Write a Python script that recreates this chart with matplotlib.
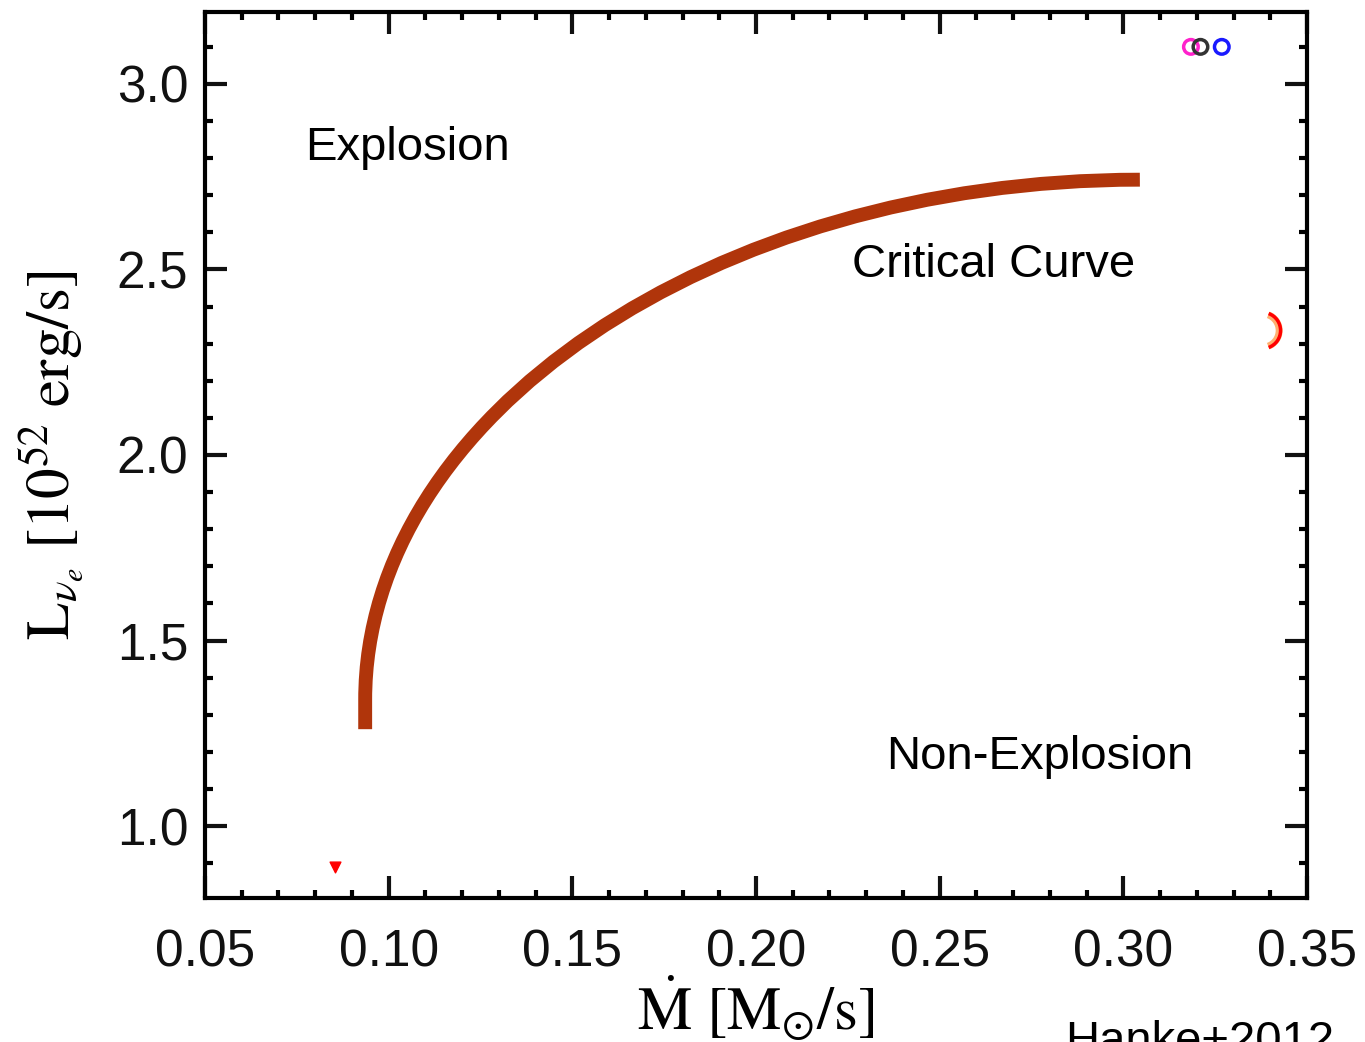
import numpy as np
import matplotlib
matplotlib.use('Agg')
import matplotlib.pyplot as plt
from matplotlib.ticker import MultipleLocator
from matplotlib.path import Path
from matplotlib.patches import PathPatch

plt.rcParams['font.family'] = ['Liberation Sans', 'DejaVu Sans']
plt.rcParams['mathtext.fontset'] = 'stix'

# critical luminosity curve: start, end of straight piece, then bezier control points
curve_x = [0.0936, 0.0936, 0.0936, 0.1876, 0.3045]
curve_y = [1.261, 1.340, 2.100, 2.742, 2.742]
curve_codes = [Path.MOVETO, Path.LINETO, Path.CURVE4, Path.CURVE4, Path.CURVE4]

# leftover model points near the frame edges
pts_x = [0.3184, 0.3210, 0.3268]
pts_y = [3.100, 3.100, 3.100]
pts_c = ['#ff22cc', '#333333', '#1a1aff']
tri_x, tri_y = 0.0854, 0.890
arc_x, arc_y = 0.3378, 2.337

xticks = [0.05, 0.10, 0.15, 0.20, 0.25, 0.30, 0.35]
yticks = [1.0, 1.5, 2.0, 2.5, 3.0]

fig = plt.figure(figsize=(13.65, 10.42), dpi=100)
ax = fig.add_axes([0.1502, 0.1382, 0.8073, 0.8503])

path = Path(np.column_stack([curve_x, curve_y]), curve_codes)
ax.add_patch(PathPatch(path, fill=False, edgecolor='#b0350b', lw=10,
                       capstyle='butt', joinstyle='round', zorder=3))

for x, y, c in zip(pts_x, pts_y, pts_c):
    ax.scatter(x, y, s=110, facecolors='none', edgecolors=c, linewidths=2.5, zorder=2)
ax.scatter(tri_x, tri_y, s=60, marker='v', color='red', zorder=2)

# half ring on the right, drawn as an arc-shaped marker
arc_marker = Path.arc(-70, 70)
ax.plot(arc_x, arc_y, marker=arc_marker, markersize=24, mfc='none',
        mec='#ffb070', mew=5, zorder=2)
ax.plot(arc_x, arc_y, marker=arc_marker, markersize=26, mfc='none',
        mec='red', mew=2.5, zorder=2)

ax.set_xlim(0.05, 0.35)
ax.set_ylim(0.806, 3.194)
ax.set_xticks(xticks)
ax.set_yticks(yticks)
ax.set_xticklabels(['%.2f' % v for v in xticks])
ax.set_yticklabels(['%.1f' % v for v in yticks])
ax.xaxis.set_minor_locator(MultipleLocator(0.01))
ax.yaxis.set_minor_locator(MultipleLocator(0.1))
ax.tick_params(which='both', direction='in', top=True, right=True, width=3, color='black')
ax.tick_params(which='major', length=16, labelsize=37, colors='#111111')
ax.tick_params(axis='x', which='major', pad=22)
ax.tick_params(axis='y', which='major', pad=12)
ax.tick_params(which='minor', length=6)
for sp in ax.spines.values():
    sp.set_linewidth(3)

ax.set_xlabel(r'$\dot{\mathrm{M}}\ [\mathrm{M}_{\odot}/\mathrm{s}]$', fontsize=44, va='baseline')
ax.xaxis.set_label_coords(0.5, -0.149)
ax.set_ylabel(r'$\mathrm{L}_{\nu_e}\ [10^{52}\ \mathrm{erg/s}]$', fontsize=44, va='center')
ax.yaxis.set_label_coords(-0.139, 0.5)

ax.text(0.0772, 2.795, 'Explosion', fontsize=34, ha='left', va='baseline')
ax.text(0.2260, 2.48, 'Critical Curve', fontsize=34, ha='left', va='baseline')
ax.text(0.2354, 1.153, 'Non-Explosion', fontsize=34, ha='left', va='baseline')

fig.text(1065 / 1365, -0.0115, 'Hanke+2012', fontsize=34, ha='left', va='baseline')

fig.savefig('out.png', dpi=100)
